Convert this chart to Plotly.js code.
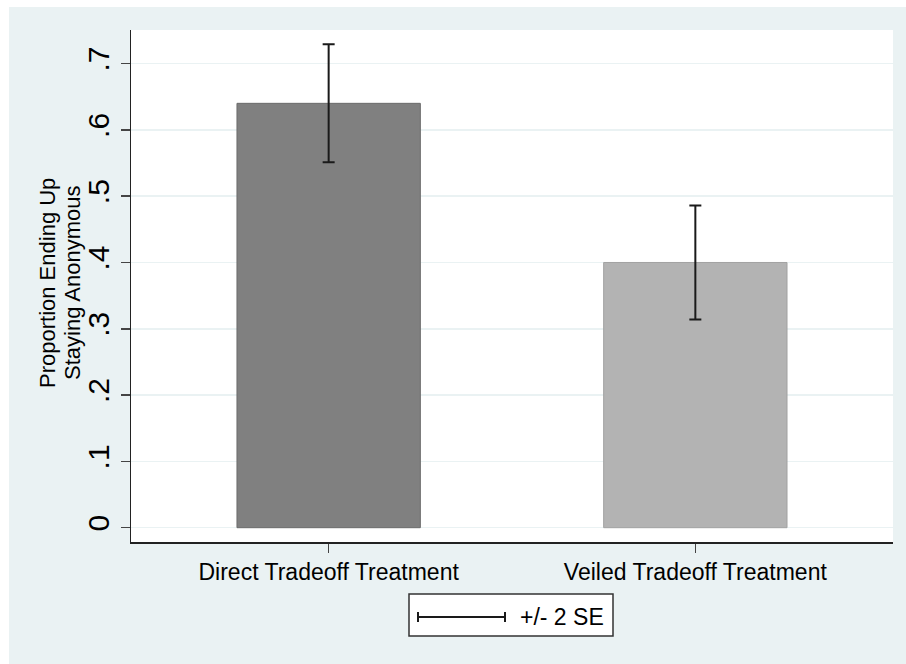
<!DOCTYPE html>
<html>
<head>
<meta charset="utf-8">
<script src="https://cdn.plot.ly/plotly-3.0.1.min.js"></script>
<style>html,body{margin:0;padding:0;background:#fff;}#chart{width:906px;height:664px;}</style>
</head>
<body>
<div id="chart"></div>
<script>
var categories = ["Direct Tradeoff Treatment", "Veiled Tradeoff Treatment"];
var proportions = [0.64, 0.40];
var twoSE = [0.089, 0.086];
var yTickVals = [0, 0.1, 0.2, 0.3, 0.4, 0.5, 0.6, 0.7];
var yTickText = ["0", ".1", ".2", ".3", ".4", ".5", ".6", ".7"];
var barColors = ["#808080", "#b3b3b3"];
var barLines = ["#6a6a6a", "#a2a2a2"];
var legendLabel = "+/- 2 SE";
var yTitleLines = ["Proportion Ending Up", "Staying Anonymous"];

var FONT = "Liberation Sans, Arial, Helvetica, sans-serif";
var BG = "#eaf2f3";

var traces = [{
  type: "bar",
  x: categories,
  y: proportions,
  width: 0.5,
  marker: {color: barColors, line: {color: barLines, width: 1}},
  error_y: {type: "data", array: twoSE, visible: true, color: "#1a1a1a", thickness: 2, width: 6},
  showlegend: false,
  hoverinfo: "none"
}];

var titleShifts = [-84, -59];
var titleAnnots = yTitleLines.map(function (t, i) {
  return {text: t, xref: "paper", yref: "paper", x: 0, y: 0.5, xshift: titleShifts[i], yshift: 3,
          xanchor: "center", yanchor: "middle", showarrow: false, textangle: -90,
          font: {family: FONT, size: 22, color: "#000"}};
});

var layout = {
  width: 906, height: 664,
  margin: {l: 131, r: 12.5, t: 30, b: 122, pad: 0},
  paper_bgcolor: BG,
  plot_bgcolor: "#ffffff",
  showlegend: false,
  font: {family: FONT, color: "#000"},
  xaxis: {
    type: "category",
    range: [-0.539, 1.539],
    showgrid: false,
    showline: true, linecolor: "#222", linewidth: 1.5,
    ticks: "outside", ticklen: 9, tickwidth: 1.5, tickcolor: "#444",
    tickfont: {family: FONT, size: 23, color: "#000"},
    fixedrange: true
  },
  yaxis: {
    range: [-0.02157, 0.7506],
    tickvals: yTickVals, ticktext: yTickText,
    tickangle: -90,
    showgrid: true, gridcolor: BG, gridwidth: 1.5,
    zeroline: false,
    showline: true, linecolor: "#222", linewidth: 1.5,
    ticks: "outside", ticklen: 9, tickwidth: 1.5, tickcolor: "#444",
    tickfont: {family: FONT, size: 30, color: "#000"},
    fixedrange: true
  },
  shapes: [
    {type: "rect", xref: "paper", yref: "paper", xsizemode: "pixel", ysizemode: "pixel",
     xanchor: 0, x0: -140, x1: -122, yanchor: 0, y0: -200, y1: 700,
     fillcolor: "#ffffff", line: {width: 0}, layer: "above"},
    {type: "rect", xref: "paper", yref: "paper", xsizemode: "pixel", ysizemode: "pixel",
     xanchor: 0, x0: -140, x1: 800, yanchor: 1, y0: 23, y1: 40,
     fillcolor: "#ffffff", line: {width: 0}, layer: "above"},
    {type: "rect", xref: "paper", yref: "paper", xsizemode: "pixel", ysizemode: "pixel",
     xanchor: 0, x0: 278, x1: 482, yanchor: 0, y0: -52, y1: -94,
     fillcolor: "#ffffff", line: {color: "#333", width: 1.5}, layer: "above"},
    {type: "line", xref: "paper", yref: "paper", xsizemode: "pixel", ysizemode: "pixel",
     xanchor: 0, x0: 287, x1: 374, yanchor: 0, y0: -75, y1: -75,
     line: {color: "#1a1a1a", width: 2}, layer: "above"},
    {type: "line", xref: "paper", yref: "paper", xsizemode: "pixel", ysizemode: "pixel",
     xanchor: 0, x0: 287, x1: 287, yanchor: 0, y0: -70, y1: -80,
     line: {color: "#1a1a1a", width: 2}, layer: "above"},
    {type: "line", xref: "paper", yref: "paper", xsizemode: "pixel", ysizemode: "pixel",
     xanchor: 0, x0: 374, x1: 374, yanchor: 0, y0: -70, y1: -80,
     line: {color: "#1a1a1a", width: 2}, layer: "above"}
  ],
  annotations: [
    {text: legendLabel, xref: "paper", yref: "paper", x: 0, y: 0, xshift: 387, yshift: -75,
     xanchor: "left", yanchor: "middle", showarrow: false,
     font: {family: FONT, size: 23, color: "#000"}}
  ].concat(titleAnnots)
};

Plotly.newPlot("chart", traces, layout, {displayModeBar: false, staticPlot: true});
</script>
</body>
</html>
